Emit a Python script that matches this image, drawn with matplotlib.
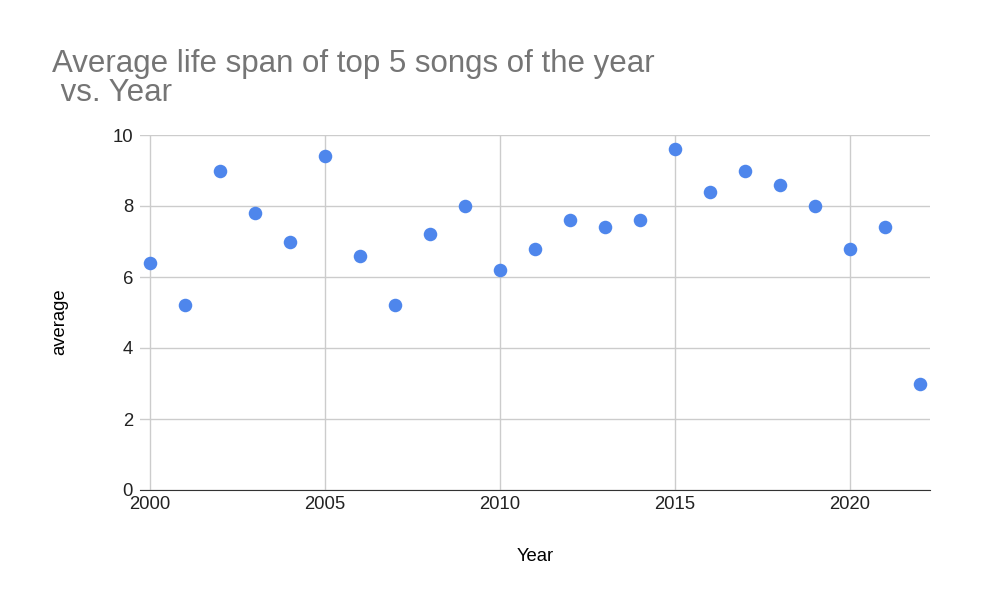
import matplotlib
matplotlib.use("Agg")
import matplotlib.pyplot as plt

years = [2000, 2001, 2002, 2003, 2004, 2005, 2006, 2007, 2008, 2009, 2010, 2011,
         2012, 2013, 2014, 2015, 2016, 2017, 2018, 2019, 2020, 2021, 2022]
average = [6.4, 5.2, 9.0, 7.8, 7.0, 9.4, 6.6, 5.2, 7.2, 8.0, 6.2, 6.8,
           7.6, 7.4, 7.6, 9.6, 8.4, 9.0, 8.6, 8.0, 6.8, 7.4, 3.0]
xticks = [2000, 2005, 2010, 2015, 2020]
yticks = [0, 2, 4, 6, 8, 10]

plt.rcParams['font.family'] = ['Liberation Sans', 'DejaVu Sans']

W, H = 1002, 594
fig = plt.figure(figsize=(W/100, H/100), dpi=100)
ax = fig.add_axes([140/W, 1-490/H, 790/W, 355/H])

ax.scatter(years, average, s=95, color='#4e86ec', zorder=3, linewidths=0)

ax.set_xlim(1999.714, 2022.286)
ax.set_ylim(0, 10)
ax.set_xticks(xticks)
ax.set_yticks(yticks)
ax.grid(True, color='#cccccc', linewidth=1)
ax.set_axisbelow(True)
for s in ['top', 'right', 'left']:
    ax.spines[s].set_visible(False)
ax.spines['bottom'].set_color('#333333')
ax.tick_params(axis='both', length=0, labelsize=13.3, colors='#222222')
ax.tick_params(axis='y', pad=5)
ax.tick_params(axis='x', pad=4.5)
ax.set_xlabel('Year', fontsize=13.3, va='top')
ax.set_ylabel('average', fontsize=13.3)
ax.xaxis.set_label_coords(0.5, (490-548)/355)
ax.yaxis.set_label_coords((68-140)/790, (490-321.5)/355)

fig.text(52/W, 1-72/H, 'Average life span of top 5 songs of the year',
         fontsize=22.5, color='#757575', ha='left', va='baseline')
fig.text(52/W, 1-101/H, ' vs. Year',
         fontsize=22.5, color='#757575', ha='left', va='baseline')

fig.savefig('out.png', dpi=100)
